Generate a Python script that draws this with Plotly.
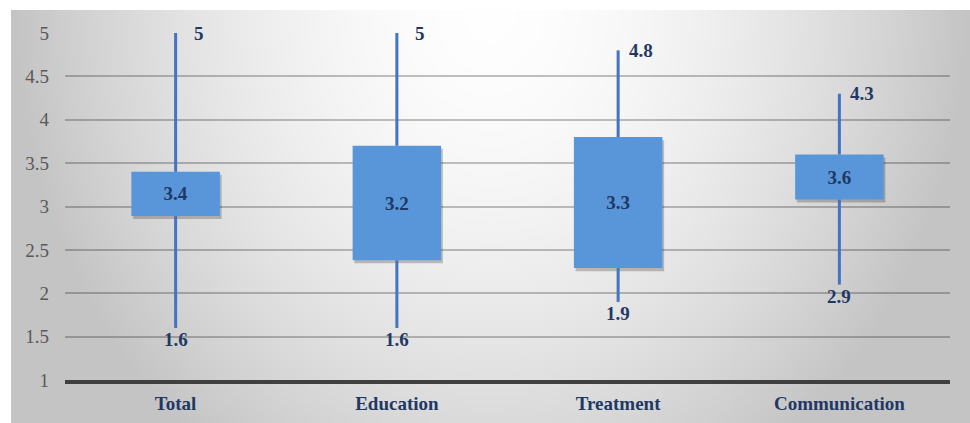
import base64, struct, zlib
import plotly.graph_objects as go

categories = ["Total", "Education", "Treatment", "Communication"]
high_values = [5.0, 5.0, 4.8, 4.3]
low_values = [1.6, 1.6, 1.9, 2.1]
box_top = [3.40, 3.70, 3.80, 3.60]
box_bottom = [2.89, 2.38, 2.29, 3.08]
high_labels = ["5", "5", "4.8", "4.3"]
low_labels = ["1.6", "1.6", "1.9", "2.9"]
mid_labels = ["3.4", "3.2", "3.3", "3.6"]
y_ticks = [1, 1.5, 2, 2.5, 3, 3.5, 4, 4.5, 5]

NAVY = "#1f3864"
SERIF = "Liberation Serif"


def gradient_png(w=240, h=104):
    rows = []
    for j in range(h):
        row = bytearray([0])
        dy = j / (h - 1)
        for i in range(w):
            dx = abs(i - (w - 1) / 2) / ((w - 1) / 2)
            d = min((dx ** 2 + (dy * 0.75) ** 2) ** 0.5, 1.0)
            v = int(round(254 - 58 * d ** 1.7))
            row.append(v)
        rows.append(bytes(row))
    raw = b"".join(rows)

    def chunk(t, data):
        c = struct.pack(">I", len(data)) + t + data
        return c + struct.pack(">I", zlib.crc32(t + data) & 0xFFFFFFFF)

    png = b"\x89PNG\r\n\x1a\n"
    png += chunk(b"IHDR", struct.pack(">IIBBBBB", w, h, 8, 0, 0, 0, 0))
    png += chunk(b"IDAT", zlib.compress(raw, 9))
    png += chunk(b"IEND", b"")
    return "data:image/png;base64," + base64.b64encode(png).decode()


xs = list(range(len(categories)))
fig = go.Figure()

# whiskers (upper and lower segments)
wx, wy = [], []
for i in xs:
    wx += [i, i, None, i, i, None]
    wy += [high_values[i], box_top[i], None, box_bottom[i], low_values[i], None]
fig.add_trace(go.Scatter(x=wx, y=wy, mode="lines",
                         line=dict(color="#4472c4", width=3),
                         hoverinfo="skip", showlegend=False))

# shadow bars
fig.add_trace(go.Bar(x=xs, y=[t - b for t, b in zip(box_top, box_bottom)],
                     base=[b - 0.035 for b in box_bottom], width=0.4, offset=-0.192,
                     marker=dict(color="rgba(0,0,0,0.22)", line=dict(width=0)),
                     hoverinfo="skip", showlegend=False))

# boxes
fig.add_trace(go.Bar(x=xs, y=[t - b for t, b in zip(box_top, box_bottom)],
                     base=box_bottom, width=0.4,
                     marker=dict(color="#5896d9", line=dict(width=0)),
                     text=mid_labels, textposition="inside", insidetextanchor="middle",
                     textangle=0, constraintext="none",
                     textfont=dict(family=SERIF, size=19, color=NAVY, weight="bold"),
                     hoverinfo="skip", showlegend=False))

for i in xs:
    fig.add_annotation(x=i, y=high_values[i], text=high_labels[i], showarrow=False,
                       xshift=23, yanchor="middle", xanchor="center",
                       font=dict(family=SERIF, size=19, color=NAVY, weight="bold"))
    fig.add_annotation(x=i, y=low_values[i], text=low_labels[i], showarrow=False,
                       yanchor="top", xanchor="center", yshift=1,
                       font=dict(family=SERIF, size=19, color=NAVY, weight="bold"))

L, R, T, B = 65, 20, 33, 43
W, H = 970, 423
pw, ph = W - L - R, H - T - B
fig.add_layout_image(dict(source=gradient_png(), xref="paper", yref="paper",
                          x=-(L - 11) / pw, y=1 + (T - 10) / ph,
                          sizex=(W - 11) / pw, sizey=(H - 10) / ph,
                          sizing="stretch", layer="below", xanchor="left", yanchor="top"))

fig.update_layout(
    width=W, height=H, margin=dict(l=L, r=R, t=T, b=B, autoexpand=False),
    paper_bgcolor="white", plot_bgcolor="rgba(0,0,0,0)",
    barmode="overlay", showlegend=False,
    xaxis=dict(range=[-0.5, 3.5], tickmode="array", tickvals=xs, ticktext=categories,
               showgrid=False, zeroline=False, showline=True, linecolor="#404040",
               linewidth=4, ticks="", ticklabelstandoff=3, automargin=False,
               tickfont=dict(family=SERIF, size=19, color=NAVY, weight="bold")),
    yaxis=dict(range=[1, 5], tickmode="array", tickvals=y_ticks,
               ticktext=[f"{v:g}" for v in y_ticks], automargin=False,
               showgrid=True, gridcolor="rgba(0,0,0,0.24)", gridwidth=1.5,
               zeroline=False, showline=False, ticks="", ticklabelstandoff=15,
               tickfont=dict(family=SERIF, size=19, color="#595959")),
)

fig.write_html("out.html")
